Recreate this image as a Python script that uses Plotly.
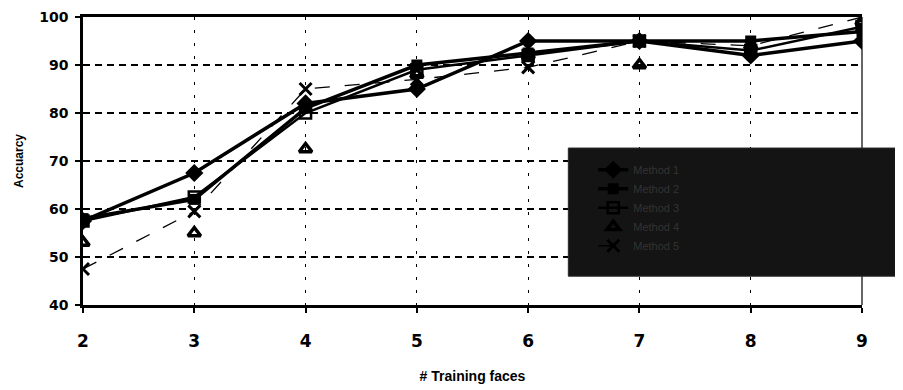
import plotly.graph_objects as go

faces = [2, 3, 4, 5, 6, 7, 8, 9]
diamond_acc = [57.5, 67.5, 82, 85, 95, 95, 92, 95]
fsquare_acc = [58, 62, 81, 90, 92.5, 95, 95, 97]
osquare_acc = [57.5, 62.5, 80, 89, 92, 95, 93, 98]
triangle_acc = [53, 55, 72.5, 88, 92, 90, 94, 99]
xmark_acc = [47.5, 59.5, 85, 87, 89.5, 95, 94, 100]
y_ticks = [40, 50, 60, 70, 80, 90, 100]
series_names = ["Method 1", "Method 2", "Method 3", "Method 4", "Method 5"]

fig = go.Figure()
fig.add_trace(go.Scatter(x=faces, y=xmark_acc, name=series_names[4], mode="lines+markers",
                         line=dict(color="black", width=1.3, dash="longdash"),
                         marker=dict(symbol="x-thin", size=12, line=dict(color="black", width=3))))
fig.add_trace(go.Scatter(x=faces, y=triangle_acc, name=series_names[3], mode="markers",
                         marker=dict(symbol="triangle-up-open", size=11, color="black",
                                     line=dict(color="black", width=3.5))))
fig.add_trace(go.Scatter(x=faces, y=osquare_acc, name=series_names[2], mode="lines+markers",
                         line=dict(color="black", width=2.5),
                         marker=dict(symbol="square-open", size=11, color="black",
                                     line=dict(color="black", width=2.5))))
fig.add_trace(go.Scatter(x=faces, y=fsquare_acc, name=series_names[1], mode="lines+markers",
                         line=dict(color="black", width=3.5),
                         marker=dict(symbol="square", size=11, color="black")))
fig.add_trace(go.Scatter(x=faces, y=diamond_acc, name=series_names[0], mode="lines+markers",
                         line=dict(color="black", width=3.5),
                         marker=dict(symbol="diamond", size=14, color="black")))

font_main = "Liberation Sans, Arial, sans-serif"
font_wide = "DejaVu Sans, Verdana, sans-serif"

fig.update_layout(
    width=895, height=382,
    margin=dict(l=75, r=41, t=9, b=85),
    plot_bgcolor="white", paper_bgcolor="white",
    showlegend=True,
    legend=dict(x=0.655, y=0.52, xanchor="left", yanchor="top",
                bgcolor="rgba(0,0,0,0)", font=dict(family=font_main, size=11, color="#333333"),
                traceorder="reversed", tracegroupgap=0),
    xaxis=dict(range=[2, 9], tickvals=faces, ticktext=[str(v) for v in faces],
               automargin=False,
               showline=True, linecolor="black", linewidth=2.5, mirror=True,
               ticks="outside", ticklen=5, tickcolor="black", tickwidth=1.5,
               ticklabelstandoff=14,
               showgrid=True, gridcolor="black", gridwidth=1.2, griddash="3px,10px",
               zeroline=False,
               tickfont=dict(family=font_wide, size=17, color="black", weight="bold"),
               title=dict(text="# Training faces", standoff=22,
                          font=dict(family=font_main, size=14, color="black", weight="bold"))),
    yaxis=dict(range=[40, 100], tickvals=y_ticks, ticktext=[str(v) for v in y_ticks],
               automargin=False,
               showline=True, linecolor="black", linewidth=2.5,
               ticks="outside", ticklen=5, tickcolor="black", tickwidth=1.5,
               ticklabelstandoff=4,
               showgrid=True, gridcolor="black", gridwidth=1.5, griddash="7px,5px",
               zeroline=False,
               tickfont=dict(family=font_wide, size=14, color="black", weight="bold"),
               title=dict(text="Accuarcy", standoff=14,
                          font=dict(family=font_main, size=12, color="black", weight="bold"))),
    shapes=[
        dict(type="line", xref="paper", yref="paper", x0=1, x1=1, y0=0, y1=1,
             line=dict(color="black", width=1.2), layer="above"),
        dict(type="rect", xref="paper", yref="paper", x0=0.623, x1=1.06, y0=0.10, y1=0.545,
             fillcolor="#141414", line=dict(color="#2a2a2a", width=1), layer="above"),
    ],
)

fig.write_html("out.html")
